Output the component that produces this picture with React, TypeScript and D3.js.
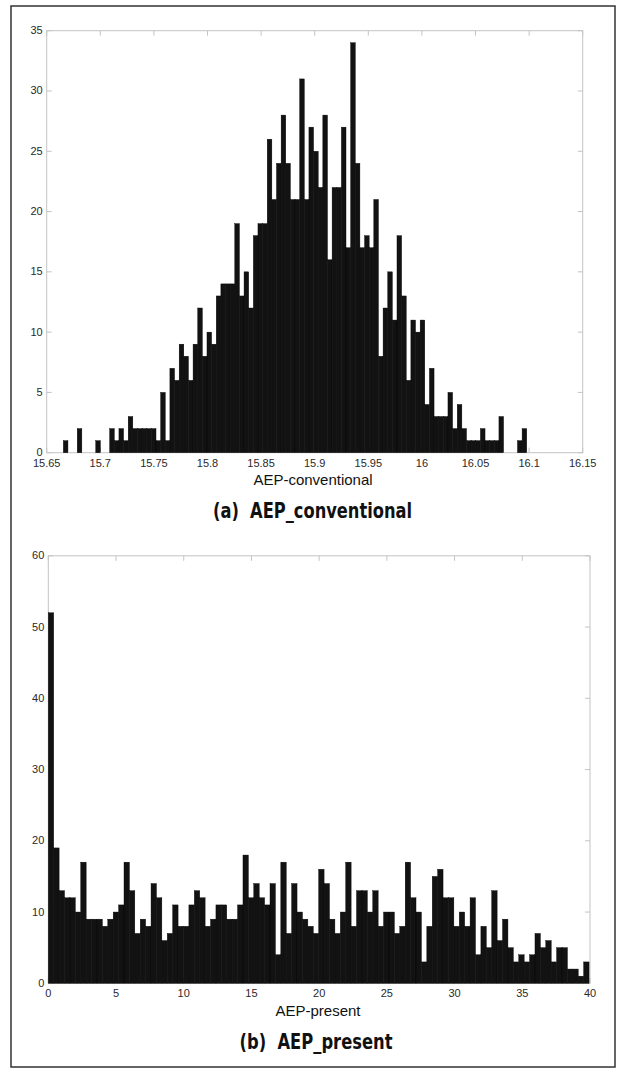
import React from 'react';
import * as d3 from 'd3';

// (a) AEP_conventional histogram: 100 bins between min and max
const convCounts = [
  1, 0, 0, 2, 0, 0, 0, 1, 0, 0,
  2, 1, 2, 1, 3, 2, 2, 2, 2, 2,
  1, 5, 1, 7, 6, 9, 8, 6, 9, 12,
  8, 10, 9, 13, 14, 14, 14, 19, 13, 15,
  12, 18, 19, 19, 26, 21, 24, 28, 24, 21,
  21, 31, 21, 27, 25, 22, 28, 16, 22, 22,
  27, 17, 34, 24, 17, 18, 17, 21, 8, 12,
  15, 11, 18, 13, 6, 11, 10, 11, 4, 7,
  3, 3, 3, 5, 2, 4, 2, 1, 1, 1,
  2, 1, 1, 1, 3, 0, 0, 0, 1, 2,
];
const convMin = 15.6655;
const convMax = 16.0978;
const convXTicks = [15.65, 15.7, 15.75, 15.8, 15.85, 15.9, 15.95, 16, 16.05, 16.1, 16.15];
const convYTicks = [0, 5, 10, 15, 20, 25, 30, 35];

// (b) AEP_present histogram
const presentCounts = [
  52, 19, 13, 12, 12, 10, 17, 9, 9, 9,
  8, 9, 10, 11, 17, 13, 7, 9, 8, 14,
  12, 6, 7, 11, 8, 8, 11, 13, 12, 8,
  9, 11, 11, 9, 9, 11, 18, 12, 14, 12,
  11, 14, 4, 17, 7, 14, 10, 9, 8, 7,
  16, 14, 9, 7, 10, 17, 8, 13, 13, 10,
  13, 8, 10, 10, 7, 8, 17, 12, 10, 3,
  8, 15, 16, 12, 12, 8, 10, 8, 12, 4,
  8, 5, 13, 6, 9, 5, 3, 4, 3, 4,
  7, 5, 6, 3, 5, 5, 2, 2, 1, 3,
];
const presentMin = 0;
const presentMax = 39.93;
const presentXTicks = [0, 5, 10, 15, 20, 25, 30, 35, 40];
const presentYTicks = [0, 10, 20, 30, 40, 50, 60];

type HistProps = {
  counts: number[];
  min: number;
  max: number;
  xDomain: [number, number];
  yDomain: [number, number];
  xTicks: number[];
  yTicks: number[];
  left: number;
  right: number;
  top: number;
  bottom: number;
  xLabel: string;
  tag: string;
  title: string;
  xLabelX: number;
  titleX: number;
  titleWidth: number;
};

const AXIS = '#c4c4c4';
const TICKLEN = 5;

function Hist(p: HistProps) {
  const x = d3.scaleLinear().domain(p.xDomain).range([p.left, p.right]);
  const y = d3.scaleLinear().domain(p.yDomain).range([p.bottom, p.top]);
  const w = (p.max - p.min) / p.counts.length;
  const bins = p.counts.map((c, i) => ({ x0: p.min + i * w, x1: p.min + (i + 1) * w, c }));
  return (
    <g>
      <rect x={p.left} y={p.top} width={p.right - p.left} height={p.bottom - p.top}
        fill="#fff" stroke={AXIS} strokeWidth={1} />
      {p.xTicks.map((t, i) => (
        <g key={'xt' + i}>
          <line x1={x(t)} x2={x(t)} y1={p.top} y2={p.top + TICKLEN} stroke={AXIS} />
          <line x1={x(t)} x2={x(t)} y1={p.bottom} y2={p.bottom - TICKLEN} stroke={AXIS} />
        </g>
      ))}
      {p.yTicks.map((t, i) => (
        <g key={'yt' + i}>
          <line x1={p.left} x2={p.left + TICKLEN} y1={y(t)} y2={y(t)} stroke={AXIS} />
          <line x1={p.right} x2={p.right - TICKLEN} y1={y(t)} y2={y(t)} stroke={AXIS} />
        </g>
      ))}
      {bins.filter(b => b.c > 0).map((b, i) => (
        <rect key={'b' + i} x={x(b.x0)} y={y(b.c)} width={x(b.x1) - x(b.x0)}
          height={y(0) - y(b.c)} fill="#121212" stroke="#000" strokeWidth={0.4} />
      ))}
      {p.xTicks.map((t, i) => (
        <text key={'xl' + i} x={x(t)} y={p.bottom + 14} textAnchor="middle"
          fontSize={11} fill="#2a2a2a" fontFamily="'Liberation Sans', Arial, sans-serif">{String(t)}</text>
      ))}
      {p.yTicks.map((t, i) => (
        <text key={'yl' + i} x={p.left - 4} y={y(t) + 3.5} textAnchor="end"
          fontSize={11} fill="#2a2a2a" fontFamily="'Liberation Sans', Arial, sans-serif">{String(t)}</text>
      ))}
      <text x={p.xLabelX} y={p.bottom + 32.5} textAnchor="middle" fontSize={15} fill="#111"
        fontFamily="'Liberation Sans', Arial, sans-serif">{p.xLabel}</text>
      <text x={p.titleX} y={p.bottom + 65.5} textAnchor="middle" fontSize={21} fontWeight="bold"
        fill="#111" fontFamily="'DejaVu Sans Condensed', 'Liberation Sans Narrow', sans-serif"
        textLength={p.titleWidth} lengthAdjust="spacingAndGlyphs"
        style={{ whiteSpace: 'pre' }}>{p.tag + '  ' + p.title}</text>
    </g>
  );
}

export default function App() {
  return (
    <svg width={618} height={1070} style={{ position: 'absolute', left: 0, top: 0, display: 'block', background: '#fff' }}>
      <rect x={0} y={0} width={618} height={1070} fill="#fff" />
      <rect x={11} y={6} width={604} height={1061} fill="none" stroke="#333" strokeWidth={1.5} />
      <Hist counts={convCounts} min={convMin} max={convMax}
        xDomain={[15.65, 16.15]} yDomain={[0, 35]}
        xTicks={convXTicks} yTicks={convYTicks}
        left={46.7} right={582.7} top={30.7} bottom={452.7}
        xLabel="AEP-conventional" tag="(a)" title="AEP_conventional" xLabelX={313} titleX={312.5} titleWidth={199} />
      <Hist counts={presentCounts} min={presentMin} max={presentMax}
        xDomain={[0, 40]} yDomain={[0, 60]}
        xTicks={presentXTicks} yTicks={presentYTicks}
        left={48.3} right={590} top={555.8} bottom={983.3}
        xLabel="AEP-present" tag="(b)" title="AEP_present" xLabelX={318} titleX={316} titleWidth={153} />
    </svg>
  );
}
